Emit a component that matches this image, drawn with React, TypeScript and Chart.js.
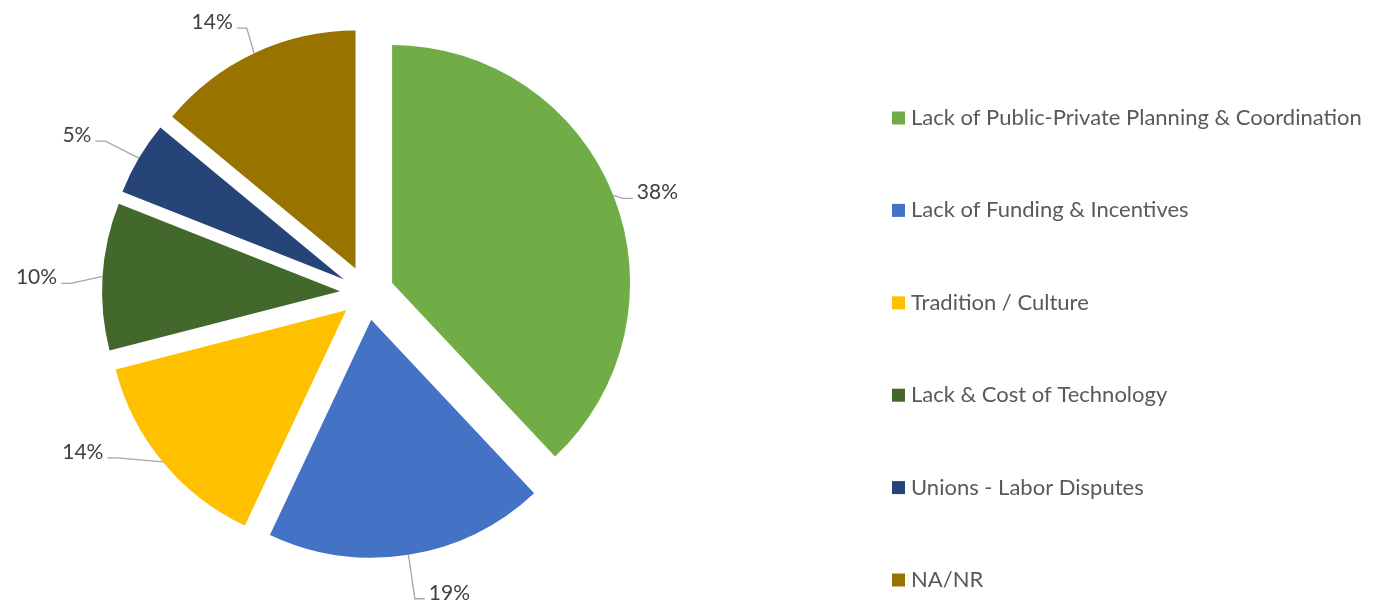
import React, { useEffect, useRef } from "react";
import { Chart, registerables } from "chart.js";

Chart.register(...registerables);

const categories = [
  "Lack of Public-Private Planning & Coordination",
  "Lack of Funding & Incentives",
  "Tradition / Culture",
  "Lack & Cost of Technology",
  "Unions - Labor Disputes",
  "NA/NR",
];
const shares = [38, 19, 14, 10, 5, 14];
const sliceColors = ["#70AD47", "#4472C4", "#FFC000", "#43682B", "#264478", "#997300"];

const W = 1376;
const H = 605;
const EXPLODE = 27;
const FONT_FAMILY = "Lato, 'Open Sans', sans-serif";
const LABEL_FONT_SIZE = 21;
const LEGEND_FONT_SIZE = 22;
// label text centre offsets relative to the slice's outer mid-arc anchor
const labelOffsets: [number, number][] = [
  [44, -3],
  [41, 38],
  [-80, -10],
  [-66, 1],
  [-62, -23],
  [-42, -31],
];
const LEGEND_BOX_X = 892;
const LEGEND_BOX = 13;
const LEGEND_TEXT_X = 911;
const LEGEND_FIRST_Y = 118;
const LEGEND_STEP = 92.4;

const explodePlugin = {
  id: "explode",
  beforeDatasetsDraw(chart: any) {
    const ca = chart.chartArea;
    const cx = (ca.left + ca.right) / 2;
    const cy = (ca.top + ca.bottom) / 2;
    const meta = chart.getDatasetMeta(0);
    meta.data.forEach((arc: any) => {
      const mid = (arc.startAngle + arc.endAngle) / 2;
      arc.x = cx + Math.cos(mid) * EXPLODE;
      arc.y = cy + Math.sin(mid) * EXPLODE;
    });
  },
};

const labelPlugin = {
  id: "pieLabels",
  afterDatasetsDraw(chart: any) {
    const ctx = chart.ctx;
    const meta = chart.getDatasetMeta(0);
    const data = chart.data.datasets[0].data as number[];
    const total = data.reduce((a, b) => a + b, 0);
    ctx.save();
    ctx.font = `${LABEL_FONT_SIZE}px ${FONT_FAMILY}`;
    meta.data.forEach((arc: any, i: number) => {
      const mid = (arc.startAngle + arc.endAngle) / 2;
      const ax = arc.x + Math.cos(mid) * arc.outerRadius;
      const ay = arc.y + Math.sin(mid) * arc.outerRadius;
      const [dx, dy] = labelOffsets[i];
      const tx = ax + dx;
      const ty = ay + dy;
      const text = Math.round((data[i] / total) * 100) + "%";
      const w = ctx.measureText(text).width;
      const right = dx > 0;
      const edge = right ? tx - w / 2 : tx + w / 2;
      const ly = ty + 6;
      const e1 = right ? edge - 4 : edge + 4;
      const e2 = right ? edge - 14 : edge + 14;
      ctx.strokeStyle = "#A6A6A6";
      ctx.lineWidth = 1.3;
      ctx.beginPath();
      ctx.moveTo(e1, ly);
      ctx.lineTo(e2, ly);
      ctx.lineTo(ax, ay);
      ctx.stroke();
      ctx.fillStyle = "#404040";
      ctx.textAlign = "center";
      ctx.textBaseline = "middle";
      ctx.fillText(text, tx, ty);
    });
    ctx.restore();
  },
  afterDraw(chart: any) {
    const ctx = chart.ctx;
    const labels = chart.data.labels as string[];
    const colors = chart.data.datasets[0].backgroundColor as string[];
    ctx.save();
    ctx.font = `${LEGEND_FONT_SIZE}px ${FONT_FAMILY}`;
    ctx.textAlign = "left";
    ctx.textBaseline = "middle";
    labels.forEach((lab, i) => {
      const y = LEGEND_FIRST_Y + i * LEGEND_STEP;
      ctx.fillStyle = colors[i];
      ctx.fillRect(LEGEND_BOX_X, y - LEGEND_BOX / 2, LEGEND_BOX, LEGEND_BOX);
      ctx.fillStyle = "#595959";
      ctx.fillText(lab, LEGEND_TEXT_X, y);
    });
    ctx.restore();
  },
};

export default function App() {
  const ref = useRef<HTMLCanvasElement>(null);
  useEffect(() => {
    if (!ref.current) return;
    const radius = 238;
    const cx = 367;
    const cy = 293;
    const chart = new Chart(ref.current, {
      type: "pie",
      data: {
        labels: categories,
        datasets: [
          {
            data: shares,
            backgroundColor: sliceColors,
            borderWidth: 0,
          },
        ],
      },
      options: {
        responsive: false,
        animation: false,
        events: [],
        devicePixelRatio: 1,
        layout: {
          padding: {
            left: cx - radius,
            top: cy - radius,
            right: W - (cx + radius),
            bottom: H - (cy + radius),
          },
        },
        plugins: {
          legend: { display: false },
          tooltip: { enabled: false },
        },
      },
      plugins: [explodePlugin, labelPlugin],
    });
    return () => chart.destroy();
  }, []);
  return (
    <div style={{ position: "absolute", left: 0, top: 0, width: W, height: H, background: "#fff" }}>
      <canvas ref={ref} width={W} height={H} style={{ display: "block" }} />
    </div>
  );
}
